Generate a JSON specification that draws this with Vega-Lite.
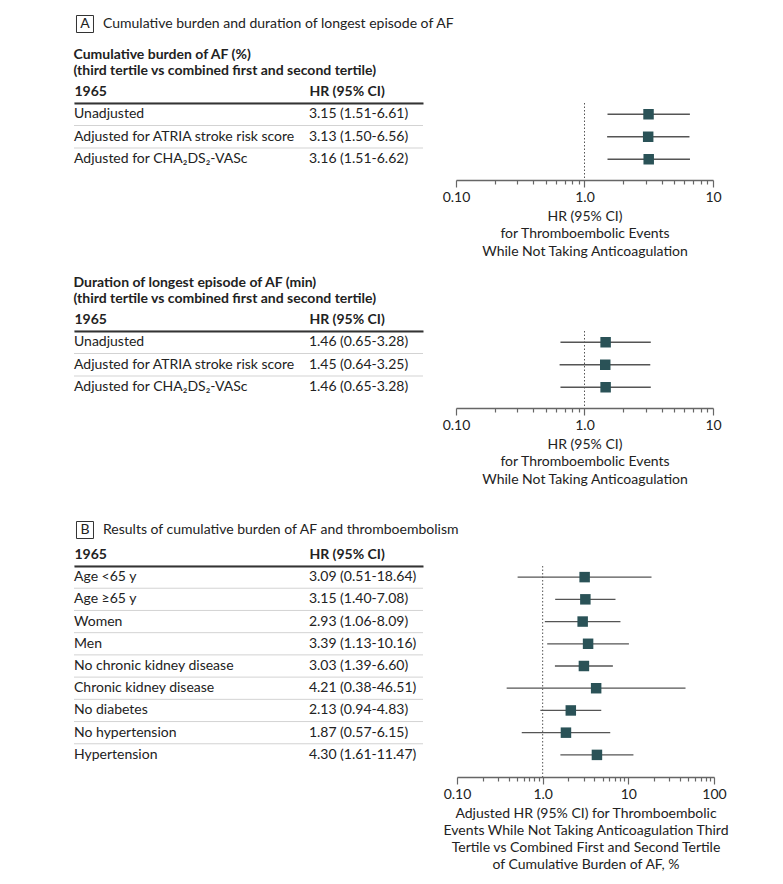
{
  "$schema": "https://vega.github.io/schema/vega-lite/v6.json",
  "background": "white",
  "padding": {"left": 73, "top": 13, "right": 0, "bottom": 0},
  "config": {"view": {"stroke": null}, "font": "Lato"},
  "datasets": {
    "headA": [{"panel": "A", "title": "Cumulative burden and duration of longest episode of AF"}],
    "headB": [{"panel": "B", "title": "Results of cumulative burden of AF and thromboembolism"}],
    "a1": [
      {"label": "Unadjusted", "hr": "3.15 (1.51-6.61)", "est": 3.15, "lo": 1.51, "hi": 6.61},
      {"label": "Adjusted for ATRIA stroke risk score", "hr": "3.13 (1.50-6.56)", "est": 3.13, "lo": 1.50, "hi": 6.56},
      {"label": "Adjusted for CHA₂DS₂-VASc", "hr": "3.16 (1.51-6.62)", "est": 3.16, "lo": 1.51, "hi": 6.62}
    ],
    "a2": [
      {"label": "Unadjusted", "hr": "1.46 (0.65-3.28)", "est": 1.46, "lo": 0.65, "hi": 3.28},
      {"label": "Adjusted for ATRIA stroke risk score", "hr": "1.45 (0.64-3.25)", "est": 1.45, "lo": 0.64, "hi": 3.25},
      {"label": "Adjusted for CHA₂DS₂-VASc", "hr": "1.46 (0.65-3.28)", "est": 1.46, "lo": 0.65, "hi": 3.28}
    ],
    "b": [
      {"label": "Age <65 y", "hr": "3.09 (0.51-18.64)", "est": 3.09, "lo": 0.51, "hi": 18.64},
      {"label": "Age ≥65 y", "hr": "3.15 (1.40-7.08)", "est": 3.15, "lo": 1.40, "hi": 7.08},
      {"label": "Women", "hr": "2.93 (1.06-8.09)", "est": 2.93, "lo": 1.06, "hi": 8.09},
      {"label": "Men", "hr": "3.39 (1.13-10.16)", "est": 3.39, "lo": 1.13, "hi": 10.16},
      {"label": "No chronic kidney disease", "hr": "3.03 (1.39-6.60)", "est": 3.03, "lo": 1.39, "hi": 6.60},
      {"label": "Chronic kidney disease", "hr": "4.21 (0.38-46.51)", "est": 4.21, "lo": 0.38, "hi": 46.51},
      {"label": "No diabetes", "hr": "2.13 (0.94-4.83)", "est": 2.13, "lo": 0.94, "hi": 4.83},
      {"label": "No hypertension", "hr": "1.87 (0.57-6.15)", "est": 1.87, "lo": 0.57, "hi": 6.15},
      {"label": "Hypertension", "hr": "4.30 (1.61-11.47)", "est": 4.30, "lo": 1.61, "hi": 11.47}
    ]
  },
  "spacing": 33,
  "vconcat": [
    {
      "spacing": 12,
      "vconcat": [
        {
          "data": {"name": "headA"},
          "width": 349, "height": 20,
          "layer": [
            {"mark": {"type": "point", "shape": "square", "filled": false, "size": 289, "stroke": "#333", "strokeWidth": 1, "opacity": 1},
             "encoding": {"x": {"datum": 0.0315, "type": "quantitative", "scale": {"domain": [0, 1]}, "axis": null}}},
            {"mark": {"type": "text", "align": "center", "baseline": "middle", "font": "Lato", "fontSize": 14, "color": "#222"},
             "encoding": {"x": {"datum": 0.0315, "type": "quantitative"}, "text": {"field": "panel"}}},
            {"mark": {"type": "text", "align": "left", "baseline": "middle", "font": "Lato", "fontSize": 14, "color": "#222"},
             "encoding": {"x": {"datum": 0.0831, "type": "quantitative"}, "text": {"field": "title"}}}
          ]
        },
        {
          "spacing": 17,
          "vconcat": [
            {
              "spacing": 18,
              "hconcat": [
                {
                  "data": {"name": "a1"},
                  "width": 349, "height": 67.5,
                  "title": {"text": ["Cumulative burden of AF (%)", "(third tertile vs combined first and second tertile)"], "anchor": "start", "font": "Lato", "fontSize": 14, "fontWeight": "bold", "color": "#222", "lineHeight": 16.5, "offset": 6},
                  "encoding": {"y": {"field": "label", "type": "nominal", "sort": null, "scale": {"paddingInner": 0, "paddingOuter": 0}, "axis": null}},
                  "layer": [
                    {"mark": {"type": "rule", "color": "#d3d3d3", "strokeWidth": 1},
                     "encoding": {"y": {"field": "label", "type": "nominal", "sort": null, "bandPosition": 0, "axis": null}}},
                    {"mark": {"type": "text", "align": "left", "baseline": "middle", "font": "Lato", "fontSize": 14, "color": "#222"},
                     "encoding": {"x": {"datum": 0, "type": "quantitative", "scale": {"domain": [0, 1]},
                       "axis": {"orient": "top", "values": [0, 0.673], "labelExpr": "datum.value == 0 ? '1965' : 'HR (95% CI)'", "labelAlign": "left", "labelFont": "Lato", "labelFontWeight": "bold", "labelFontSize": 14, "labelColor": "#222", "ticks": false, "tickSize": 0, "labelPadding": 5, "domainColor": "#333", "domainWidth": 2, "title": null, "grid": false, "labelFlush": false, "labelBound": false, "labelOverlap": false, "zindex": 1}},
                       "text": {"field": "label"}}},
                    {"mark": {"type": "text", "align": "left", "baseline": "middle", "font": "Lato", "fontSize": 14, "color": "#222"},
                     "encoding": {"x": {"datum": 0.673, "type": "quantitative"}, "text": {"field": "hr"}}}
                  ]
                },
                {
                  "width": 257, "height": 77,
                  "layer": [
                    {"data": {"values": [{"ref": 1}]},
                     "mark": {"type": "rule", "strokeDash": [1.5, 2], "color": "#555", "strokeWidth": 1},
                     "encoding": {"x": {"field": "ref", "type": "quantitative", "scale": {"type": "log", "domain": [0.1, 10], "nice": false},
                       "axis": {"values": [0.1, 0.2, 0.3, 0.4, 0.5, 0.6, 0.7, 0.8, 0.9, 1, 2, 3, 4, 5, 6, 7, 8, 9, 10],
                         "labelExpr": "datum.value == 0.1 ? '0.10' : datum.value == 1 ? '1.0' : datum.value == 10 ? '10' : ''",
                         "tickSize": {"condition": {"test": "datum.value == 0.1 || datum.value == 1 || datum.value == 10", "value": 7}, "value": 4},
                         "tickColor": "#666", "domainColor": "#666", "domainWidth": 1.5, "tickWidth": 1.2,
                         "labelFont": "Lato", "labelFontSize": 14, "labelColor": "#222", "labelPadding": 3,
                         "labelFlush": false, "labelOverlap": false, "labelBound": false, "grid": false,
                         "title": ["HR (95% CI)", "for Thromboembolic Events", "While Not Taking Anticoagulation"],
                         "titleFont": "Lato", "titleFontSize": 14, "titleFontWeight": "normal", "titleColor": "#222", "titleLineHeight": 17.5, "titlePadding": 5}}}},
                    {"data": {"name": "a1"},
                     "mark": {"type": "rule", "color": "#555", "strokeWidth": 1.3},
                     "encoding": {"y": {"field": "label", "type": "nominal", "sort": null, "axis": null, "scale": {"paddingInner": 0, "paddingOuter": 0.211, "align": 0}},
                       "x": {"field": "lo", "type": "quantitative"}, "x2": {"field": "hi"}}},
                    {"data": {"name": "a1"},
                     "mark": {"type": "point", "shape": "square", "filled": true, "size": 110, "color": "#2a5257", "opacity": 1},
                     "encoding": {"y": {"field": "label", "type": "nominal", "sort": null, "axis": null},
                       "x": {"field": "est", "type": "quantitative"}}}
                  ]
                }
              ]
            },
            {
              "spacing": 18,
              "hconcat": [
                {
                  "data": {"name": "a2"},
                  "width": 349, "height": 67.5,
                  "title": {"text": ["Duration of longest episode of AF (min)", "(third tertile vs combined first and second tertile)"], "anchor": "start", "font": "Lato", "fontSize": 14, "fontWeight": "bold", "color": "#222", "lineHeight": 16.5, "offset": 6},
                  "encoding": {"y": {"field": "label", "type": "nominal", "sort": null, "scale": {"paddingInner": 0, "paddingOuter": 0}, "axis": null}},
                  "layer": [
                    {"mark": {"type": "rule", "color": "#d3d3d3", "strokeWidth": 1},
                     "encoding": {"y": {"field": "label", "type": "nominal", "sort": null, "bandPosition": 0, "axis": null}}},
                    {"mark": {"type": "text", "align": "left", "baseline": "middle", "font": "Lato", "fontSize": 14, "color": "#222"},
                     "encoding": {"x": {"datum": 0, "type": "quantitative", "scale": {"domain": [0, 1]},
                       "axis": {"orient": "top", "values": [0, 0.673], "labelExpr": "datum.value == 0 ? '1965' : 'HR (95% CI)'", "labelAlign": "left", "labelFont": "Lato", "labelFontWeight": "bold", "labelFontSize": 14, "labelColor": "#222", "ticks": false, "tickSize": 0, "labelPadding": 5, "domainColor": "#333", "domainWidth": 2, "title": null, "grid": false, "labelFlush": false, "labelBound": false, "labelOverlap": false, "zindex": 1}},
                       "text": {"field": "label"}}},
                    {"mark": {"type": "text", "align": "left", "baseline": "middle", "font": "Lato", "fontSize": 14, "color": "#222"},
                     "encoding": {"x": {"datum": 0.673, "type": "quantitative"}, "text": {"field": "hr"}}}
                  ]
                },
                {
                  "width": 257, "height": 77,
                  "layer": [
                    {"data": {"values": [{"ref": 1}]},
                     "mark": {"type": "rule", "strokeDash": [1.5, 2], "color": "#555", "strokeWidth": 1},
                     "encoding": {"x": {"field": "ref", "type": "quantitative", "scale": {"type": "log", "domain": [0.1, 10], "nice": false},
                       "axis": {"values": [0.1, 0.2, 0.3, 0.4, 0.5, 0.6, 0.7, 0.8, 0.9, 1, 2, 3, 4, 5, 6, 7, 8, 9, 10],
                         "labelExpr": "datum.value == 0.1 ? '0.10' : datum.value == 1 ? '1.0' : datum.value == 10 ? '10' : ''",
                         "tickSize": {"condition": {"test": "datum.value == 0.1 || datum.value == 1 || datum.value == 10", "value": 7}, "value": 4},
                         "tickColor": "#666", "domainColor": "#666", "domainWidth": 1.5, "tickWidth": 1.2,
                         "labelFont": "Lato", "labelFontSize": 14, "labelColor": "#222", "labelPadding": 3,
                         "labelFlush": false, "labelOverlap": false, "labelBound": false, "grid": false,
                         "title": ["HR (95% CI)", "for Thromboembolic Events", "While Not Taking Anticoagulation"],
                         "titleFont": "Lato", "titleFontSize": 14, "titleFontWeight": "normal", "titleColor": "#222", "titleLineHeight": 17.5, "titlePadding": 5}}}},
                    {"data": {"name": "a2"},
                     "mark": {"type": "rule", "color": "#555", "strokeWidth": 1.3},
                     "encoding": {"y": {"field": "label", "type": "nominal", "sort": null, "axis": null, "scale": {"paddingInner": 0, "paddingOuter": 0.211, "align": 0}},
                       "x": {"field": "lo", "type": "quantitative"}, "x2": {"field": "hi"}}},
                    {"data": {"name": "a2"},
                     "mark": {"type": "point", "shape": "square", "filled": true, "size": 110, "color": "#2a5257", "opacity": 1},
                     "encoding": {"y": {"field": "label", "type": "nominal", "sort": null, "axis": null},
                       "x": {"field": "est", "type": "quantitative"}}}
                  ]
                }
              ]
            }
          ]
        }
      ]
    },
    {
      "spacing": 6,
      "vconcat": [
        {
          "data": {"name": "headB"},
          "width": 349, "height": 20,
          "layer": [
            {"mark": {"type": "point", "shape": "square", "filled": false, "size": 289, "stroke": "#333", "strokeWidth": 1, "opacity": 1},
             "encoding": {"x": {"datum": 0.0315, "type": "quantitative", "scale": {"domain": [0, 1]}, "axis": null}}},
            {"mark": {"type": "text", "align": "center", "baseline": "middle", "font": "Lato", "fontSize": 14, "color": "#222"},
             "encoding": {"x": {"datum": 0.0315, "type": "quantitative"}, "text": {"field": "panel"}}},
            {"mark": {"type": "text", "align": "left", "baseline": "middle", "font": "Lato", "fontSize": 14, "color": "#222"},
             "encoding": {"x": {"datum": 0.0831, "type": "quantitative"}, "text": {"field": "title"}}}
          ]
        },
        {
          "spacing": 18,
          "hconcat": [
            {
              "data": {"name": "b"},
              "width": 349, "height": 200,
              "encoding": {"y": {"field": "label", "type": "nominal", "sort": null, "scale": {"paddingInner": 0, "paddingOuter": 0}, "axis": null}},
              "layer": [
                {"mark": {"type": "rule", "color": "#d3d3d3", "strokeWidth": 1},
                 "encoding": {"y": {"field": "label", "type": "nominal", "sort": null, "bandPosition": 0, "axis": null}}},
                {"mark": {"type": "text", "align": "left", "baseline": "middle", "font": "Lato", "fontSize": 14, "color": "#222"},
                 "encoding": {"x": {"datum": 0, "type": "quantitative", "scale": {"domain": [0, 1]},
                   "axis": {"orient": "top", "values": [0, 0.673], "labelExpr": "datum.value == 0 ? '1965' : 'HR (95% CI)'", "labelAlign": "left", "labelFont": "Lato", "labelFontWeight": "bold", "labelFontSize": 14, "labelColor": "#222", "ticks": false, "tickSize": 0, "labelPadding": 5, "domainColor": "#333", "domainWidth": 2, "title": null, "grid": false, "labelFlush": false, "labelBound": false, "labelOverlap": false, "zindex": 1}},
                   "text": {"field": "label"}}},
                {"mark": {"type": "text", "align": "left", "baseline": "middle", "font": "Lato", "fontSize": 14, "color": "#222"},
                 "encoding": {"x": {"datum": 0.673, "type": "quantitative"}, "text": {"field": "hr"}}}
              ]
            },
            {
              "width": 257, "height": 211,
              "layer": [
                {"data": {"values": [{"ref": 1}]},
                 "mark": {"type": "rule", "strokeDash": [1.5, 2], "color": "#555", "strokeWidth": 1},
                 "encoding": {"x": {"field": "ref", "type": "quantitative", "scale": {"type": "log", "domain": [0.1, 100], "nice": false},
                   "axis": {"values": [0.1, 0.2, 0.3, 0.4, 0.5, 0.6, 0.7, 0.8, 0.9, 1, 2, 3, 4, 5, 6, 7, 8, 9, 10, 20, 30, 40, 50, 60, 70, 80, 90, 100],
                     "labelExpr": "datum.value == 0.1 ? '0.10' : datum.value == 1 ? '1.0' : datum.value == 10 ? '10' : datum.value == 100 ? '100' : ''",
                     "tickSize": {"condition": {"test": "datum.value == 0.1 || datum.value == 1 || datum.value == 10 || datum.value == 100", "value": 7}, "value": 4},
                     "tickColor": "#666", "domainColor": "#666", "domainWidth": 1.5, "tickWidth": 1.2,
                     "labelFont": "Lato", "labelFontSize": 14, "labelColor": "#222", "labelPadding": 3,
                     "labelFlush": false, "labelOverlap": false, "labelBound": false, "grid": false,
                     "title": ["Adjusted HR (95% CI) for Thromboembolic", "Events While Not Taking Anticoagulation Third", "Tertile vs Combined First and Second Tertile", "of Cumulative Burden of AF, %"],
                     "titleFont": "Lato", "titleFontSize": 14, "titleFontWeight": "normal", "titleColor": "#222", "titleLineHeight": 17.3, "titlePadding": 5}}}},
                {"data": {"name": "b"},
                 "mark": {"type": "rule", "color": "#555", "strokeWidth": 1.3},
                 "encoding": {"y": {"field": "label", "type": "nominal", "sort": null, "axis": null, "scale": {"paddingInner": 0, "paddingOuter": 0.2475, "align": 0}},
                   "x": {"field": "lo", "type": "quantitative"}, "x2": {"field": "hi"}}},
                {"data": {"name": "b"},
                 "mark": {"type": "point", "shape": "square", "filled": true, "size": 110, "color": "#2a5257", "opacity": 1},
                 "encoding": {"y": {"field": "label", "type": "nominal", "sort": null, "axis": null},
                   "x": {"field": "est", "type": "quantitative"}}}
              ]
            }
          ]
        }
      ]
    }
  ]
}
